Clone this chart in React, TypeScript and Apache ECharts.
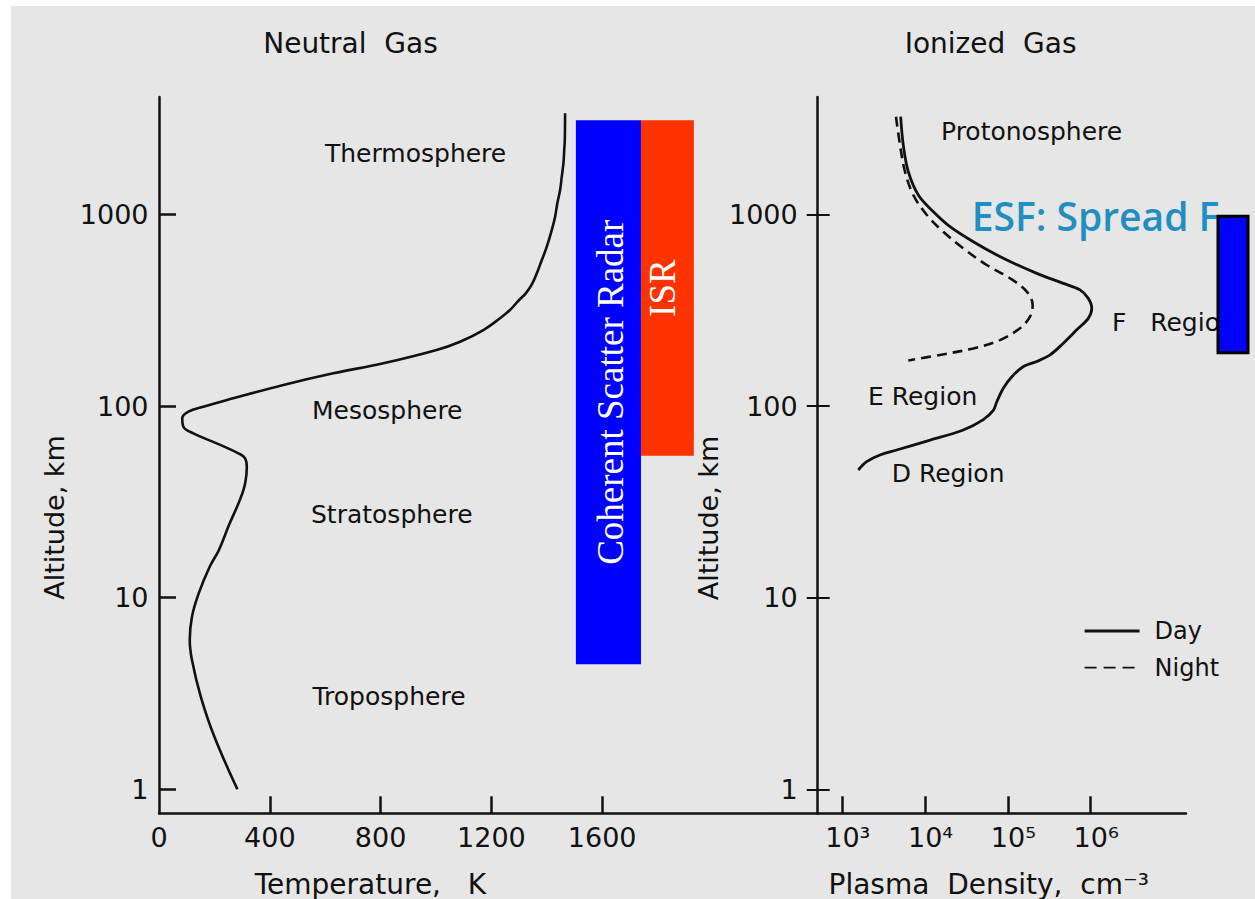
import React, { useEffect, useRef } from 'react';
import * as echarts from 'echarts';

// ---------------- data ----------------
const temperatureAltitudeKm = [1.0, 1.88, 3.04, 4.73, 6.02, 7.96, 10.5, 14.5, 17.7, 24, 32.4, 39.5, 48.3, 53.4, 56.2, 63.9, 72.1, 78.1, 86.4, 93.5, 99.3, 109.8, 128.9, 148.3, 167.3, 196.3, 216.8, 249.5, 287.3, 317.4, 357.9, 387.9, 428.7, 493.4, 578.8, 679.2, 830.2, 973.9, 1144, 1342, 1575, 1850, 2171, 2448, 3375];
const temperatureK = [283, 200, 151, 119, 111, 119, 143, 183, 216, 253, 292, 311, 317, 311, 292, 208, 124, 88, 84, 106, 160, 268, 449, 629, 810, 1002, 1087, 1171, 1231, 1267, 1300, 1324, 1345, 1364, 1382, 1400, 1418, 1430, 1438, 1448, 1454, 1460, 1463, 1465, 1466];

const dayAltitudeKm = [3239, 2305, 1673, 1264, 1034, 864, 721, 591, 493, 437, 404, 365, 324, 287, 250, 213, 185, 171, 161, 142, 124, 105, 95, 85, 75, 66.5, 59, 55.6, 51.3, 46.4];
const dayDensity = [5.07e3, 5.45e3, 6.27e3, 8.28e3, 1.26e4, 2.0e4, 3.82e4, 8.8e4, 2.23e5, 4.67e5, 7.43e5, 9.35e5, 1.03e6, 9.35e5, 6.78e5, 4.67e5, 3.23e5, 2.23e5, 1.54e5, 1.11e5, 8.8e4, 7.32e4, 6.66e4, 5.05e4, 2.89e4, 1.15e4, 4.54e3, 2.85e3, 1.97e3, 1.56e3];

const nightAltitudeKm = [3239, 2305, 1673, 1264, 994, 813, 666, 545, 465, 396, 337, 293, 255, 221, 200, 185, 173];
const nightDensity = [4.45e3, 4.98e3, 5.72e3, 7.2e3, 1.05e4, 1.66e4, 2.89e4, 5.55e4, 1.06e5, 1.69e5, 1.99e5, 1.85e5, 1.4e5, 8.03e4, 3.82e4, 1.51e4, 6.27e3];

const altitudeTicks = [1, 10, 100, 1000];
const temperatureTicks = [0, 400, 800, 1200, 1600];
const densityTicks = [1e3, 1e4, 1e5, 1e6];

const radarNames = ['Coherent Scatter Radar', 'ISR'];
const radarAltitudeMinKm = [4.5, 55];
const radarAltitudeMaxKm = [3100, 3100];
const spreadFName = 'ESF: Spread F';
const spreadFAltitudeKm = [190, 980];

const neutralLayers = ['Thermosphere', 'Mesosphere', 'Stratosphere', 'Troposphere'];
const ionLayers = ['Protonosphere', 'F   Region', 'E Region', 'D Region'];
const panelTitles = ['Neutral  Gas', 'Ionized  Gas'];
const xAxisTitles = ['Temperature,   K', 'Plasma  Density,  cm\u207B\u00B3'];
const yAxisTitle = 'Altitude, km';
const seriesNames = ['Temperature', 'Day', 'Night'];

// ---------------- layout / style ----------------
const INK = '#111';
const FONT = '"DejaVu Sans", sans-serif';
const LEFT_GRID = { left: 159, top: 97, width: 658.7, height: 716.3 };
const RIGHT_GRID = { left: 817.7, top: 97, width: 368.3, height: 716.3 };
const ALT_MIN = 0.7494;
const ALT_MAX = 4105;
const T_MAX = 2378;
const N_MIN = 504.6;
const N_MAX = 1.416e7;
const radarBarT = [[1505, 1740], [1740, 1931]];
const radarColors = ['#0000ff', '#ff3300'];
const radarTextX = [610, 662.5];
const esfBar = { left: 1218, width: 30 };
const neutralLabelPos = [[325, 153.7], [312, 410.7], [311, 514], [312.5, 696]];
const ionLabelPos = [[941, 131], [1112, 322.5], [868, 396], [891.7, 473.8]];

const SUP: Record<string, string> = { '0': '\u2070', '1': '\u00B9', '2': '\u00B2', '3': '\u00B3', '4': '\u2074', '5': '\u2075', '6': '\u2076', '7': '\u2077', '8': '\u2078', '9': '\u2079', '-': '\u207B' };
const powLabel = (v: number) => '10' + String(Math.round(Math.log10(v))).split('').map((c) => SUP[c]).join('');
const plainLabel = (v: number) => String(Math.round(v));

const axisLineStyle = { color: INK, width: 2.5 };
const labelStyle = { fontSize: 27, fontFamily: FONT, color: INK };

function buildOption(): any {
  const text = (t: string, x: number, y: number, extra: any = {}) => ({
    type: 'text',
    x,
    y,
    silent: true,
    ...extra,
    style: { text: t, fill: INK, fontSize: 25, fontFamily: FONT, align: 'left', verticalAlign: 'middle', ...(extra.style || {}) },
  });

  const graphics: any[] = [
    text(panelTitles[0], 350.5, 43.8, { style: { fontSize: 28, align: 'center' } }),
    text(panelTitles[1], 990.6, 43.8, { style: { fontSize: 28, align: 'center' } }),
    text(xAxisTitles[0], 370.4, 884, { style: { fontSize: 28, align: 'center' } }),
    text(xAxisTitles[1], 828.5, 884, { style: { fontSize: 28, align: 'left' } }),
    text(yAxisTitle, 54, 517.5, { rotation: Math.PI / 2, style: { fontSize: 27, align: 'center' } }),
    text(yAxisTitle, 708.4, 518, { rotation: Math.PI / 2, style: { fontSize: 27, align: 'center' } }),
    ...neutralLayers.map((n, i) => text(n, neutralLabelPos[i][0], neutralLabelPos[i][1])),
    ...ionLayers.map((n, i) => text(n, ionLabelPos[i][0], ionLabelPos[i][1])),
    text(spreadFName, 971.7, 215.5, {
      style: { fill: '#1f8fc1', fontSize: 39, fontFamily: '"Open Sans", sans-serif', fontWeight: 600 },
    }),
  ];

  return {
    animation: false,
    backgroundColor: 'transparent',
    textStyle: { fontFamily: FONT },
    grid: [
      { ...LEFT_GRID, containLabel: false, outerBoundsMode: 'none' },
      { ...RIGHT_GRID, containLabel: false, outerBoundsMode: 'none' },
    ],
    xAxis: [
      {
        type: 'value',
        gridIndex: 0,
        min: 0,
        max: T_MAX,
        axisLine: { show: true, onZero: false, lineStyle: axisLineStyle },
        axisTick: { show: true, inside: true, length: 17, customValues: temperatureTicks.slice(1), lineStyle: axisLineStyle },
        axisLabel: { show: true, customValues: temperatureTicks, margin: 11, formatter: plainLabel, ...labelStyle },
        splitLine: { show: false },
      },
      {
        type: 'log',
        logBase: 10,
        gridIndex: 1,
        min: N_MIN,
        max: N_MAX,
        axisLine: { show: true, onZero: false, lineStyle: axisLineStyle },
        axisTick: { show: true, inside: true, length: 17, customValues: densityTicks, lineStyle: axisLineStyle },
        axisLabel: { show: true, customValues: densityTicks, margin: 11, padding: [0, 0, 0, 11], formatter: powLabel, ...labelStyle },
        splitLine: { show: false },
        minorTick: { show: false },
      },
    ],
    yAxis: [
      {
        type: 'log',
        logBase: 10,
        gridIndex: 0,
        min: ALT_MIN,
        max: ALT_MAX,
        axisLine: { show: true, onZero: false, lineStyle: axisLineStyle },
        axisTick: { show: true, inside: true, length: 17, customValues: altitudeTicks, lineStyle: axisLineStyle },
        axisLabel: { show: true, customValues: altitudeTicks, margin: 10.5, formatter: plainLabel, ...labelStyle },
        splitLine: { show: false },
      },
      {
        type: 'log',
        logBase: 10,
        gridIndex: 1,
        min: ALT_MIN,
        max: ALT_MAX,
        axisLine: { show: true, onZero: false, lineStyle: axisLineStyle },
        axisTick: { show: true, inside: false, length: 11, customValues: altitudeTicks, lineStyle: { color: INK, width: 2 } },
        axisLabel: { show: true, customValues: altitudeTicks, margin: 20, formatter: plainLabel, ...labelStyle },
        splitLine: { show: false },
      },
      {
        type: 'log',
        logBase: 10,
        gridIndex: 1,
        min: ALT_MIN,
        max: ALT_MAX,
        position: 'left',
        offset: 0,
        axisLine: { show: false, onZero: false },
        axisTick: { show: true, inside: true, length: 12, customValues: altitudeTicks, lineStyle: { color: INK, width: 2 } },
        axisLabel: { show: false },
        splitLine: { show: false },
      },
    ],
    legend: {
      show: true,
      data: [
        { name: 'Day', lineStyle: { width: 3.2, color: INK } },
        { name: 'Night', lineStyle: { width: 1.8, color: INK, type: [12, 7] } },
      ],
      orient: 'vertical',
      left: 1078,
      top: 614,
      itemWidth: 55,
      itemHeight: 24,
      itemGap: 12.7,
      selectedMode: false,
      itemStyle: { opacity: 0, borderWidth: 0 },
      textStyle: { fontSize: 24, fontFamily: FONT, color: INK, padding: [0, 0, 0, 10] },
    },
    graphic: graphics,
    series: [
      {
        name: seriesNames[0],
        type: 'line',
        xAxisIndex: 0,
        yAxisIndex: 0,
        data: temperatureK.map((t, i) => [t, temperatureAltitudeKm[i]]),
        showSymbol: false,
        symbol: 'none',
        smooth: 0.4,
        lineStyle: { color: INK, width: 2.6 },
        z: 3,
      },
      {
        name: seriesNames[1],
        type: 'line',
        xAxisIndex: 1,
        yAxisIndex: 1,
        data: dayDensity.map((n, i) => [n, dayAltitudeKm[i]]),
        showSymbol: false,
        symbol: 'none',
        smooth: 0.35,
        itemStyle: { color: INK },
        lineStyle: { color: INK, width: 2.8 },
        z: 3,
      },
      {
        name: seriesNames[2],
        type: 'line',
        xAxisIndex: 1,
        yAxisIndex: 1,
        data: nightDensity.map((n, i) => [n, nightAltitudeKm[i]]),
        showSymbol: false,
        symbol: 'none',
        smooth: 0.35,
        itemStyle: { color: INK },
        lineStyle: { color: INK, width: 2.6, type: [10, 6] },
        z: 3,
      },
      {
        name: 'Radars',
        type: 'custom',
        xAxisIndex: 0,
        yAxisIndex: 0,
        clip: false,
        silent: true,
        data: radarNames.map((_, i) => [radarAltitudeMinKm[i], radarAltitudeMaxKm[i]]),
        renderItem: (params: any, api: any) => {
          const i = params.dataIndex;
          const lo = api.value(0);
          const hi = api.value(1);
          const p0 = api.coord([radarBarT[i][0], hi]);
          const p1 = api.coord([radarBarT[i][1], lo]);
          return {
            type: 'group',
            children: [
              { type: 'rect', shape: { x: p0[0], y: p0[1], width: p1[0] - p0[0], height: p1[1] - p0[1] }, style: { fill: radarColors[i] } },
              {
                type: 'text',
                x: radarTextX[i],
                y: (p0[1] + p1[1]) / 2,
                rotation: Math.PI / 2,
                style: { text: radarNames[i], fill: '#ffffff', fontSize: 37, fontFamily: '"Liberation Serif", serif', align: 'center', verticalAlign: 'middle' },
              },
            ],
          };
        },
        z: 4,
      },
      {
        name: 'Spread F',
        type: 'custom',
        xAxisIndex: 1,
        yAxisIndex: 1,
        clip: false,
        silent: true,
        data: [[spreadFAltitudeKm[0], spreadFAltitudeKm[1]]],
        renderItem: (params: any, api: any) => {
          const lo = api.value(0);
          const hi = api.value(1);
          const yTop = api.coord([1e6, hi])[1];
          const yBot = api.coord([1e6, lo])[1];
          return {
            type: 'rect',
            shape: { x: esfBar.left, y: yTop, width: esfBar.width, height: yBot - yTop },
            style: { fill: '#0000ff', stroke: '#000', lineWidth: 3 },
          };
        },
        z: 5,
      },
    ],
  };
}

export default function App() {
  const ref = useRef<HTMLDivElement>(null);
  useEffect(() => {
    if (!ref.current) return;
    const chart = echarts.init(ref.current, undefined, { renderer: 'svg', width: 1255, height: 899 });
    chart.setOption(buildOption());
    return () => chart.dispose();
  }, []);
  return (
    <div style={{ position: 'absolute', left: 0, top: 0, width: 1255, height: 899, background: '#ffffff', overflow: 'hidden' }}>
      <div style={{ position: 'absolute', left: 11, top: 6, right: 0, bottom: 0, background: '#e6e6e6' }} />
      <div ref={ref} style={{ position: 'absolute', left: 0, top: 0, width: 1255, height: 899 }} />
    </div>
  );
}
